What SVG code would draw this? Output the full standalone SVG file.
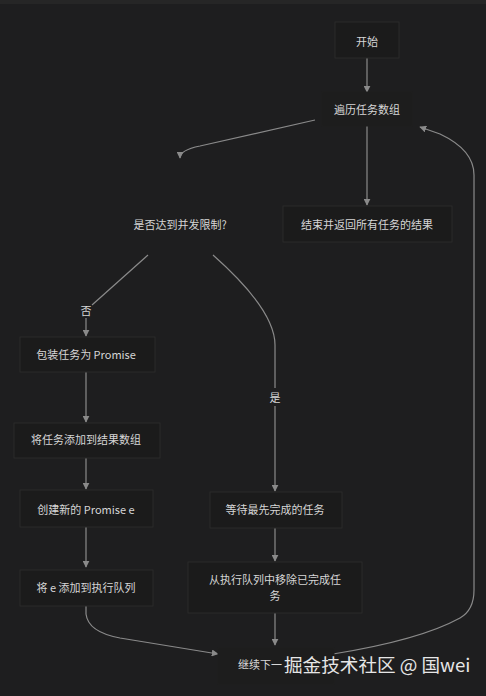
<svg xmlns="http://www.w3.org/2000/svg" width="486" height="696" viewBox="0 0 486 696">
<defs>
<style>
.bg{fill:#1e1e1f}
.box{fill:#1b1b1b;stroke:#2b2b2b;stroke-width:1}
.hid{fill:#1d1d1d;stroke:#1f1f1f}
.t{font-family:"Noto Sans CJK SC","Noto Sans",sans-serif;font-size:11px;fill:#d6d6d6;text-anchor:middle;dominant-baseline:central}
.e{fill:none;stroke:#8a8a8a;stroke-width:1.2}
.wm{font-family:"Noto Sans CJK SC","Noto Sans",sans-serif;font-size:18.6px;fill:#e6e6e6}
</style>
<marker id="ah" viewBox="0 0 10 10" refX="9" refY="5" markerWidth="7" markerHeight="7" orient="auto-start-reverse" markerUnits="userSpaceOnUse">
<path d="M0,0 L10,5 L0,10 z" fill="#8a8a8a"/>
</marker>
</defs>
<rect class="bg" x="0" y="0" width="486" height="696"/>
<rect x="0" y="0" width="486" height="4" fill="#262626"/>
<g id="edges">
<path class="e" d="M367,58 L367,92" marker-end="url(#ah)"/>
<path class="e" d="M315,120 L200,146 Q180,150 180,158" marker-end="url(#ah)"/>
<path class="e" d="M367,126 L367,205" marker-end="url(#ah)"/>
<path class="e" d="M148,255 L92,305"/>
<path class="e" d="M86,318 L86,336" marker-end="url(#ah)"/>
<path class="e" d="M213,255 Q275,310 275,345 L275,388"/>
<path class="e" d="M275,406 L275,491" marker-end="url(#ah)"/>
<path class="e" d="M86,372 L86,422" marker-end="url(#ah)"/>
<path class="e" d="M86,458 L86,489" marker-end="url(#ah)"/>
<path class="e" d="M86,527 L86,567" marker-end="url(#ah)"/>
<path class="e" d="M86,606 L86,614 Q88,632 120,638 L218,654" marker-end="url(#ah)"/>
<path class="e" d="M275,528 L275,561" marker-end="url(#ah)"/>
<path class="e" d="M275,613 L275,645" marker-end="url(#ah)"/>
<path class="e" d="M333,654 Q420,640 460,618 Q474,610 474,590 L474,175 Q474,150 440,134 L420,127" marker-end="url(#ah)"/>
</g>
<g id="start"><rect class="box" x="335" y="22" width="64" height="36"/><text class="t" x="367" y="41">开始</text></g>
<g id="iterate"><rect class="box hid" x="322" y="92" width="90" height="34"/><text class="t" x="367" y="109">遍历任务数组</text></g>
<g id="check"><text class="t" x="180" y="224">是否达到并发限制?</text></g>
<g id="end"><rect class="box" x="283" y="206" width="169" height="36"/><text class="t" x="367" y="224">结束并返回所有任务的结果</text></g>
<g id="label-no"><text class="t" x="86" y="310">否</text></g>
<g id="label-yes"><text class="t" x="275" y="397">是</text></g>
<g id="wrap"><rect class="box" x="20" y="337" width="135" height="35"/><text class="t" x="86" y="354">包装任务为 Promise</text></g>
<g id="addresult"><rect class="box" x="14" y="423" width="146" height="35"/><text class="t" x="86" y="439">将任务添加到结果数组</text></g>
<g id="create"><rect class="box" x="20" y="490" width="133" height="37"/><text class="t" x="86" y="509">创建新的 Promise e</text></g>
<g id="enqueue"><rect class="box" x="20" y="570" width="133" height="36"/><text class="t" x="86" y="587">将 e 添加到执行队列</text></g>
<g id="wait"><rect class="box" x="210" y="492" width="132" height="36"/><text class="t" x="275" y="509">等待最先完成的任务</text></g>
<g id="remove"><rect class="box" x="188" y="562" width="174" height="51"/><text class="t" x="275" y="579">从执行队列中移除已完成任</text><text class="t" x="275" y="595">务</text></g>
<g id="next"><rect class="box hid" x="218" y="648" width="116" height="36"/><text class="t" x="238" y="664" style="text-anchor:start">继续下一</text></g>
<text class="wm" x="284" y="672">掘金技术社区 @ 国wei</text>
</svg>
